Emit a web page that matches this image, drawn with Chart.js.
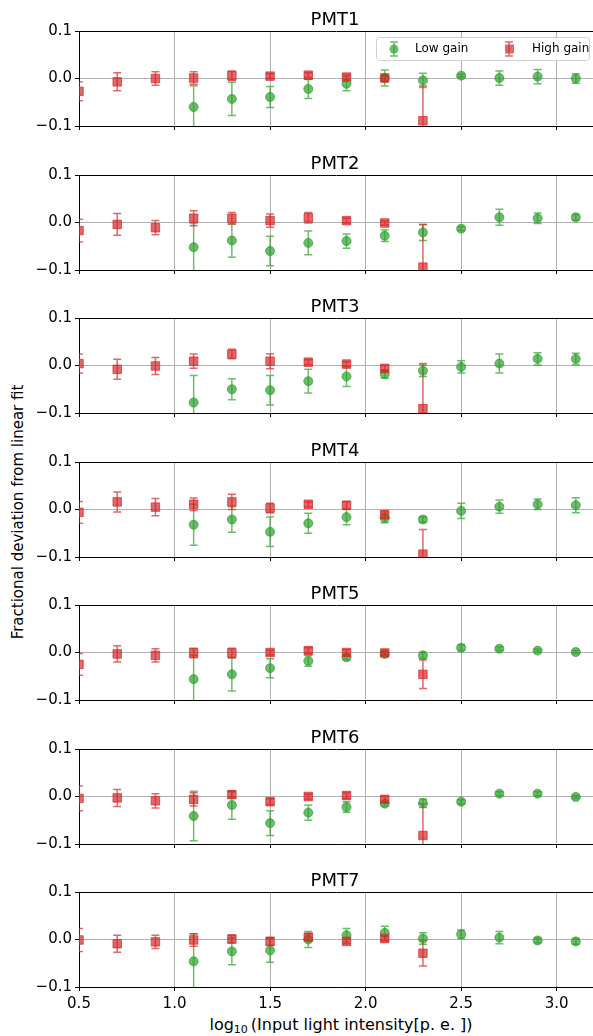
<!DOCTYPE html>
<html>
<head>
<meta charset="utf-8">
<script src="https://cdn.jsdelivr.net/npm/chart.js@4.4.1/dist/chart.umd.min.js"></script>
<style>
  body { margin: 0; background: #fff; }
  #wrap { position: relative; width: 593px; height: 1036px; overflow: hidden; font-family: "DejaVu Sans", sans-serif; }
  #wrap canvas { position: absolute; left: 0; }
  .ylab { position: absolute; left: 18px; top: 512px; transform: translate(-50%, -50%) rotate(-90deg); white-space: nowrap; font-size: 15px; color: #000; }
  .xlab { position: absolute; left: 341px; top: 1025px; transform: translate(-50%, -50%); white-space: nowrap; font-size: 16px; color: #000; }
  .xlab sub { font-size: 11px; vertical-align: -3px; margin-right: 3px; }
</style>
</head>
<body>
<div id="wrap">
  <div class="ylab">Fractional deviation from linear fit</div>
  <div class="xlab">log<sub>10</sub>(Input light intensity[p. e. ])</div>
</div>
<script>
const pmtNames = ['PMT1', 'PMT2', 'PMT3', 'PMT4', 'PMT5', 'PMT6', 'PMT7'];
const xLow = [1.1, 1.3, 1.5, 1.7, 1.9, 2.1, 2.3, 2.5, 2.7, 2.9, 3.1];
const xHigh = [0.5, 0.7, 0.9, 1.1, 1.3, 1.5, 1.7, 1.9, 2.1, 2.3];
const xTicks = [0.5, 1.0, 1.5, 2.0, 2.5, 3.0];
const yTicks = [-0.1, 0.0, 0.1];

// low gain (green circles), one row per PMT
const lowGain = [
  [-0.060, -0.043, -0.039, -0.022, -0.011, 0.001, -0.004, 0.006, 0.001, 0.004, 0.000],
  [-0.052, -0.038, -0.060, -0.043, -0.039, -0.028, -0.021, -0.013, 0.011, 0.009, 0.011],
  [-0.078, -0.050, -0.052, -0.033, -0.023, -0.018, -0.011, -0.003, 0.004, 0.014, 0.014],
  [-0.032, -0.021, -0.047, -0.029, -0.016, -0.018, -0.021, -0.003, 0.006, 0.011, 0.009],
  [-0.056, -0.046, -0.033, -0.018, -0.010, -0.003, -0.006, 0.010, 0.008, 0.004, 0.001],
  [-0.041, -0.018, -0.056, -0.034, -0.022, -0.015, -0.014, -0.011, 0.006, 0.006, -0.001],
  [-0.046, -0.025, -0.023, 0.000, 0.009, 0.014, 0.002, 0.011, 0.004, -0.002, -0.004]
];
const lowGainErr = [
  [0.045, 0.035, 0.022, 0.020, 0.015, 0.017, 0.015, 0.003, 0.015, 0.015, 0.010],
  [0.050, 0.035, 0.031, 0.025, 0.015, 0.012, 0.017, 0.004, 0.017, 0.011, 0.006],
  [0.057, 0.022, 0.031, 0.025, 0.021, 0.009, 0.012, 0.013, 0.020, 0.013, 0.012],
  [0.043, 0.027, 0.031, 0.021, 0.016, 0.010, 0.006, 0.016, 0.014, 0.011, 0.016],
  [0.050, 0.035, 0.020, 0.011, 0.005, 0.004, 0.006, 0.006, 0.004, 0.003, 0.003],
  [0.052, 0.030, 0.026, 0.016, 0.011, 0.005, 0.009, 0.004, 0.004, 0.004, 0.003],
  [0.058, 0.028, 0.025, 0.017, 0.014, 0.014, 0.012, 0.009, 0.013, 0.005, 0.006]
];
// high gain (red squares)
const highGain = [
  [-0.027, -0.007, 0.000, 0.001, 0.006, 0.005, 0.007, 0.003, 0.001, -0.089],
  [-0.017, -0.004, -0.011, 0.009, 0.009, 0.004, 0.010, 0.004, -0.001, -0.094],
  [0.004, -0.008, -0.001, 0.009, 0.024, 0.009, 0.007, 0.003, -0.006, -0.091],
  [-0.006, 0.016, 0.005, 0.011, 0.016, 0.003, 0.011, 0.009, -0.011, -0.094],
  [-0.025, -0.003, -0.006, -0.001, -0.001, 0.000, 0.004, 0.000, -0.001, -0.046],
  [-0.004, -0.003, -0.009, -0.006, 0.004, -0.011, 0.000, 0.002, -0.006, -0.082],
  [-0.001, -0.009, -0.005, -0.001, 0.001, -0.004, 0.005, -0.004, 0.002, -0.029]
];
const highGainErr = [
  [0.020, 0.019, 0.014, 0.013, 0.010, 0.005, 0.005, 0.005, 0.005, 0.073],
  [0.024, 0.023, 0.015, 0.016, 0.012, 0.014, 0.011, 0.005, 0.004, 0.090],
  [0.020, 0.021, 0.018, 0.015, 0.010, 0.016, 0.005, 0.005, 0.006, 0.095],
  [0.023, 0.021, 0.018, 0.013, 0.016, 0.010, 0.005, 0.008, 0.008, 0.052],
  [0.023, 0.017, 0.014, 0.010, 0.010, 0.005, 0.006, 0.006, 0.004, 0.030],
  [0.026, 0.018, 0.015, 0.014, 0.006, 0.006, 0.005, 0.006, 0.006, 0.067],
  [0.024, 0.018, 0.014, 0.013, 0.008, 0.008, 0.007, 0.005, 0.005, 0.027]
];

const GREEN = 'rgba(44,160,44,0.7)';
const RED = 'rgba(214,39,40,0.7)';
const FONT = '"DejaVu Sans", sans-serif';

function drawBar(ctx, x, yTop, yBot, color) {
  ctx.strokeStyle = color;
  ctx.lineWidth = 1.5;
  ctx.beginPath();
  ctx.moveTo(x, yTop); ctx.lineTo(x, yBot);
  ctx.moveTo(x - 4, yTop); ctx.lineTo(x + 4, yTop);
  ctx.moveTo(x - 4, yBot); ctx.lineTo(x + 4, yBot);
  ctx.stroke();
}

// error bars through the chart's own scales
const errorBars = {
  id: 'errorBars',
  beforeDatasetsDraw(chart) {
    const { ctx, chartArea, scales } = chart;
    ctx.save();
    ctx.beginPath();
    ctx.rect(chartArea.left, chartArea.top, chartArea.right - chartArea.left, chartArea.bottom - chartArea.top);
    ctx.clip();
    chart.data.datasets.forEach(ds => {
      ds.data.forEach((p, j) => {
        const e = ds.errors[j];
        const x = scales.x.getPixelForValue(p.x);
        drawBar(ctx, x, scales.y.getPixelForValue(p.y + e), scales.y.getPixelForValue(p.y - e), ds.borderColor);
      });
    });
    ctx.restore();
  }
};

const panelTitle = {
  id: 'panelTitle',
  afterDraw(chart, args, opts) {
    const { ctx, chartArea } = chart;
    ctx.save();
    ctx.fillStyle = '#000';
    ctx.font = '18px ' + FONT;
    ctx.textAlign = 'center';
    ctx.textBaseline = 'alphabetic';
    ctx.fillText(opts.text, (chartArea.left + chartArea.right) / 2 - 1, chartArea.top - 6);
    ctx.restore();
  }
};

const boxLegend = {
  id: 'boxLegend',
  afterDraw(chart, args, opts) {
    if (!opts.show) return;
    const ctx = chart.ctx;
    const top = chart.chartArea.top;
    ctx.save();
    ctx.fillStyle = 'rgba(255,255,255,0.8)';
    ctx.strokeStyle = '#d0d0d0';
    ctx.lineWidth = 1;
    ctx.beginPath();
    ctx.roundRect(376.5, top + 6.5, 213, 23, 3);
    ctx.fill();
    ctx.stroke();
    const cy = top + 18;
    drawBar(ctx, 394, cy - 7, cy + 7, GREEN);
    ctx.fillStyle = GREEN;
    ctx.beginPath(); ctx.arc(394, cy, 4.5, 0, Math.PI * 2); ctx.fill();
    drawBar(ctx, 509, cy - 7, cy + 7, RED);
    ctx.fillStyle = RED;
    ctx.fillRect(505, cy - 4.5, 9, 9);
    ctx.fillStyle = '#000';
    ctx.font = '12px ' + FONT;
    ctx.textBaseline = 'middle';
    ctx.fillText('Low gain', 415, cy);
    ctx.fillText('High gain', 532, cy);
    ctx.restore();
  }
};

const wrap = document.getElementById('wrap');

pmtNames.forEach((name, i) => {
  const last = i === pmtNames.length - 1;
  const canvas = document.createElement('canvas');
  const top = Math.round(143.5 * i);
  const h = last ? 1036 - top : 143;
  canvas.style.top = top + 'px';
  canvas.style.width = '593px';
  canvas.style.height = h + 'px';
  canvas.width = 593;
  canvas.height = h;
  wrap.appendChild(canvas);

  new Chart(canvas, {
    type: 'scatter',
    data: {
      datasets: [
        {
          label: 'Low gain',
          data: xLow.map((x, j) => ({ x, y: lowGain[i][j] })),
          errors: lowGainErr[i],
          pointStyle: 'circle',
          pointRadius: 4.5,
          pointBorderWidth: 1,
          backgroundColor: GREEN,
          borderColor: GREEN,
          order: 1
        },
        {
          label: 'High gain',
          data: xHigh.map((x, j) => ({ x, y: highGain[i][j] })),
          errors: highGainErr[i],
          pointStyle: 'rect',
          pointRadius: 6,
          pointBorderWidth: 1,
          backgroundColor: RED,
          borderColor: RED,
          order: 0
        }
      ]
    },
    options: {
      responsive: false,
      animation: false,
      events: [],
      layout: { autoPadding: false, padding: { top: 31, left: 0, right: 0, bottom: 0 } },
      plugins: {
        legend: { display: false },
        tooltip: { enabled: false },
        panelTitle: { text: name },
        boxLegend: { show: i === 0 }
      },
      scales: {
        x: {
          type: 'linear',
          min: 0.5,
          max: 3.19,
          afterBuildTicks: s => { s.ticks = xTicks.map(v => ({ value: v })); },
          afterFit: s => { s.height = last ? 49 : 17; },
          ticks: {
            display: last,
            color: '#000',
            font: { family: FONT, size: 15 },
            padding: 4,
            maxRotation: 0,
            callback: v => v.toFixed(1)
          },
          grid: {
            color: c => (c.tick && c.tick.value === 0.5 ? '#000' : '#b0b0b0'),
            lineWidth: 1,
            tickColor: '#000',
            tickLength: 4
          },
          border: { display: true, color: '#000', width: 1 }
        },
        y: {
          min: -0.1,
          max: 0.1,
          afterBuildTicks: s => { s.ticks = yTicks.map(v => ({ value: v })); },
          afterFit: s => { s.width = 79; },
          ticks: {
            color: '#000',
            font: { family: FONT, size: 15 },
            padding: 3,
            callback: v => (v < 0 ? '\u2212' : '') + Math.abs(v).toFixed(1)
          },
          grid: {
            color: c => (c.tick && Math.abs(c.tick.value) < 1e-9 ? '#b0b0b0' : '#000'),
            lineWidth: 1,
            tickColor: '#000',
            tickLength: 4
          },
          border: { display: true, color: '#000', width: 1 }
        }
      }
    },
    plugins: [errorBars, panelTitle, boxLegend]
  });
});
</script>
</body>
</html>
